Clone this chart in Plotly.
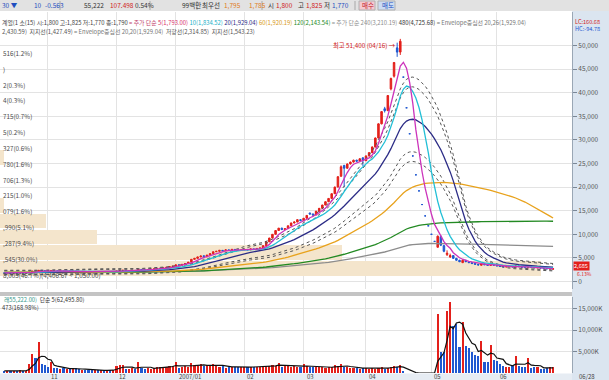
import plotly.graph_objects as go
import pandas as pd

W, H = 609, 380
PLOT_R = 572
FONT = "Noto Sans CJK KR"
RED = "#e3201b"
BLUE = "#1f58d0"
GRID = "#e3e3e3"


def fx(px):
    return px / W


def fy(py):
    return 1 - py / H


# ---------------- data ----------------
month_idx = [14, 36, 55, 77, 96, 116, 137, 158]
month_lbl = ["11", "12", "2007/01", "02", "03", "04", "05", "06"]
end_lbl = "06/28"
price_ticks = [0, 5000, 10000, 15000, 20000, 25000, 30000, 35000, 40000, 45000, 50000]
vol_ticks = [5000, 10000, 15000]
vol_tick_lbl = ["5,000K", "10,000K", "15,000K"]

prior_closes = [2050, 2020, 2000, 1980, 1990, 1960, 1940, 1950, 1930, 1900,
                1880, 1870, 1890, 1900, 1880, 1860, 1850, 1870, 1890, 1920,
                1950, 1980, 1960, 1940, 1910, 1900, 1880, 1870, 1860, 1880,
                1900, 1920, 1940, 1930, 1910, 1890, 1900, 1920, 1950, 1970,
                1990, 2010, 2000, 1980, 1960, 1950, 1970, 1990, 2000, 1980,
                1960, 1940, 1920, 1900, 1880, 1870, 1860, 1850, 1840, 1830,
                1820, 1810, 1800, 1795]

opens = [1800, 1790, 1805, 1780, 1810, 1795, 1830, 1815, 1860, 1980, 2180, 2080, 2380, 2280,
         2200, 2140, 2300, 2240, 2200, 2220, 2160, 2200, 2170, 2180, 2130, 2100, 2130, 2100, 2070, 2060, 2080, 2050, 2060, 2030, 2040, 2030,
         2060, 2180, 2280, 2380, 2300, 2330, 2360, 2320, 2560, 2500, 2470, 2530, 2600, 2660, 2700, 2800, 2850, 3000, 3150,
         3250, 3520, 3440, 3620, 3800, 4100, 4700, 4900, 5200, 5450, 5250, 5600, 5900, 6300, 6400, 6600, 6500, 6700, 6600, 6800, 6700, 6600,
         6700, 6800, 6700, 6900, 6800, 7000, 7100, 7600, 8400, 9200, 10000, 10800, 11300, 11000, 11200, 11800, 12400, 12600,
         13100, 12900, 13400, 14500, 14300, 14100, 14900, 15500, 16200, 16900, 17600, 18600, 20000, 22300, 24600, 24000, 24900, 25300, 25700, 25500, 26200,
         25600, 26600, 27300, 28500, 30400, 33400, 36600, 36200, 40800, 43500, 49500, 48600,
         43300, 36800, 31300, 26600, 22600, 19200, 16300, 13900, 11800,
         10000, 8500, 7250, 9500, 7600, 5700, 5200, 5500, 4900, 4500, 4000, 4500, 4200, 4000, 3800, 3650, 3450, 3750, 3550, 3400, 3650,
         3450, 3300, 3180, 3080, 3150, 3200, 3050, 3300, 3150, 3030, 2920, 3150, 3000, 2880, 2960, 2850, 2760, 2660, 2620]

highs = [1825, 1815, 1810, 1820, 1815, 1840, 1835, 1860, 1980, 2200, 2250, 2420, 2420, 2300,
         2230, 2330, 2320, 2260, 2240, 2230, 2220, 2210, 2200, 2190, 2150, 2150, 2140, 2110, 2090, 2090, 2090, 2070, 2070, 2050, 2060, 2070,
         2200, 2300, 2400, 2390, 2350, 2380, 2370, 2600, 2580, 2520, 2540, 2620, 2680, 2730, 2820, 2880, 3020, 3180, 3280,
         3560, 3540, 3650, 3820, 4150, 4750, 4950, 5250, 5450, 5500, 5650, 5950, 6350, 6450, 6650, 6650, 6750, 6720, 6850, 6820, 6720, 6750,
         6850, 6820, 6950, 6920, 7050, 7150, 7650, 8450, 9250, 10050, 10850, 11350, 11400, 11250, 11850, 12450, 12700, 13150,
         13200, 13450, 14050, 14600, 14400, 14950, 15550, 16250, 16950, 17650, 18650, 20100, 22300, 24600, 24700, 25000, 25400, 25800, 25800, 26100, 26300,
         26700, 27400, 28600, 30500, 33500, 36100, 37000, 39500, 43200, 46500, 50600, 51400,
         43300, 36800, 31300, 26600, 22600, 19200, 16300, 13900, 11800,
         10000, 8500, 9750, 9800, 7800, 6600, 5900, 5600, 5000, 4600, 4700, 4550, 4250, 4050, 3850, 3700, 3900, 3780, 3580, 3800, 3680,
         3480, 3320, 3200, 3200, 3250, 3220, 3400, 3320, 3170, 3050, 3250, 3170, 3020, 3000, 2980, 2870, 2780, 2740, 2720]

lows = [1770, 1780, 1770, 1775, 1785, 1790, 1805, 1810, 1850, 1960, 2020, 2060, 2250, 2170,
        2120, 2130, 2220, 2180, 2170, 2150, 2150, 2160, 2140, 2120, 2090, 2090, 2090, 2060, 2040, 2050, 2040, 2030, 2020, 2010, 2020, 2020,
        2050, 2160, 2260, 2280, 2270, 2300, 2300, 2310, 2480, 2450, 2460, 2520, 2580, 2640, 2690, 2780, 2840, 2980, 3120,
        3240, 3400, 3420, 3600, 3780, 4080, 4650, 4880, 5150, 4900, 5200, 5550, 5880, 6250, 6350, 6450, 6480, 6550, 6580, 6650, 6550, 6580,
        6680, 6650, 6680, 6750, 6780, 6950, 7080, 7580, 8350, 9150, 9950, 10700, 10900, 10900, 11150, 11750, 12300, 12550,
        12800, 12850, 13350, 14200, 13900, 14050, 14850, 15450, 16150, 16850, 17550, 18550, 19950, 22200, 20000, 23900, 24800, 25200, 25300, 25400, 24500,
        25500, 26500, 27200, 28400, 30300, 33300, 35800, 36100, 40500, 43200, 47600, 48000,
        43300, 36800, 31300, 26600, 22600, 19200, 16300, 13900, 11800,
        10000, 8500, 7250, 7500, 6200, 5400, 5000, 4800, 4400, 4100, 3900, 4100, 3900, 3750, 3600, 3450, 3400, 3500, 3380, 3380, 3400,
        3250, 3150, 3050, 3050, 3120, 3050, 3030, 3100, 3000, 2900, 2900, 2980, 2880, 2860, 2820, 2740, 2650, 2640, 2600]

closes = [1790, 1805, 1780, 1810, 1795, 1830, 1815, 1850, 1960, 2180, 2050, 2380, 2280, 2200,
          2140, 2300, 2240, 2200, 2220, 2160, 2200, 2170, 2180, 2130, 2100, 2130, 2100, 2070, 2060, 2080, 2050, 2060, 2030, 2040, 2030, 2060,
          2180, 2280, 2380, 2300, 2330, 2360, 2320, 2560, 2500, 2470, 2530, 2600, 2660, 2700, 2800, 2850, 3000, 3150, 3250,
          3520, 3440, 3620, 3800, 4100, 4700, 4900, 5200, 5400, 5250, 5600, 5900, 6300, 6400, 6600, 6500, 6700, 6600, 6800, 6700, 6600, 6700,
          6800, 6700, 6900, 6800, 7000, 7100, 7600, 8400, 9200, 10000, 10800, 11300, 11000, 11200, 11800, 12400, 12600, 13100,
          12900, 13400, 14000, 14300, 14100, 14900, 15500, 16200, 16900, 17600, 18600, 20000, 22200, 24300, 24000, 24900, 25300, 25700, 25500, 26000, 25600,
          26600, 27300, 28500, 30400, 33400, 36000, 36200, 39400, 43000, 46400, 48600, 50900,
          43300, 36800, 31300, 26600, 22600, 19200, 16300, 13900, 11800,
          10000, 8500, 9600, 7700, 6400, 6000, 5500, 4900, 4500, 4200, 4500, 4200, 4000, 3800, 3650, 3500, 3750, 3550, 3420, 3650, 3450,
          3300, 3180, 3080, 3150, 3200, 3080, 3300, 3150, 3030, 2940, 3150, 3000, 2900, 2960, 2850, 2760, 2680, 2710, 2685]

volumes_k = [500, 450, 400, 500, 450, 600, 500, 550, 2100, 4500, 3500, 7300, 2100, 1900,
             1300, 2600, 1200, 1100, 1000, 1100, 1000, 900, 1000, 1100, 900, 800, 700, 700, 600, 600, 650, 600, 700, 600, 650, 700,
             1700, 1900, 1800, 900, 1000, 1200, 900, 2500, 1100, 1000, 1100, 1000, 1200, 1300, 1400, 1500, 1400, 1600, 1700,
             2500, 1100, 1300, 1700, 1500, 2300, 1800, 1600, 2000, 1700, 1800, 1900, 2200, 1600, 1500, 1600, 1200, 1500, 1300, 1500, 1400, 1300,
             1500, 1400, 1300, 1500, 1400, 1500, 1600, 1700, 1600, 1800, 1700, 2400, 1500, 1600, 1700, 1500, 1700, 1400,
             1500, 2000, 1600, 1500, 1400, 1500, 1300, 1400, 1200, 1500, 1300, 1800, 1700, 2000, 1300, 1400, 1200, 1100, 1200, 1000, 1100,
             1200, 1000, 1100, 1000, 1200, 1300, 1000, 1100, 1500, 1700, 1400, 1800,
             500, 0, 0, 0, 0, 0, 0, 0, 0,
             0, 0, 13700, 4900, 5000, 14500, 16500, 11000, 11500, 6000, 12000, 6200, 5800, 4800, 4300, 4000, 7500, 2600, 2500, 6600, 3000,
             2800, 2000, 1600, 1500, 1500, 1700, 4000, 1600, 1500, 1400, 3500, 1200, 1300, 1500, 1000, 1000, 1200, 1400, 1500]

# price-by-volume profile (bottom bin first)
profile_low, profile_high = 1050.0, 51400.0
profile_pct = [46.7, 30.0, 9.4, 5.1, 1.6, 1.0, 1.3, 1.6, 0.6, 0.2, 0.7, 0.3, 0.3, 0.0, 1.2]
profile_lbl = ["8,005(46.7%)(4,406.67 ~ 1,050.00)", ",545(30.0%)", ",287(9.4%)", ",990(5.1%)",
               "079(1.6%)", "215(1.0%)", "706(1.3%)", "780(1.6%)", "327(0.6%)", "5(0.2%)",
               "715(0.7%)", "4(0.3%)", "2(0.3%)", ")", "516(1.2%)"]

ma_windows = [5, 10, 20, 60, 120, 240]
ma_colors = ["#cc33bb", "#22bfd6", "#2c2c86", "#e8a21c", "#238a23", "#8c8c8c"]
env_pcts = [0.20, 0.26]

n = len(closes)
assert len(opens) == n and len(highs) == n and len(lows) == n and len(volumes_k) == n
xi = list(range(n))

allc = pd.Series(prior_closes + closes, dtype=float)
n0 = len(prior_closes)


def ma(w):
    return allc.rolling(w, min_periods=1).mean().iloc[n0:].to_numpy()


vol_ma5 = pd.Series(volumes_k, dtype=float).rolling(5, min_periods=1).mean().to_numpy()
vol_colors = [RED if c > o else BLUE for o, c in zip(opens, closes)]

# ---------------- figure ----------------
fig = go.Figure()

bin_w = (profile_high - profile_low) / len(profile_pct)
bin_mid = [profile_low + bin_w * (i + 0.5) for i in range(len(profile_pct))]
fig.add_trace(go.Bar(x=profile_pct, y=bin_mid, orientation="h", width=bin_w * 0.92,
                     marker=dict(color="#f4e5cc", line=dict(width=0)),
                     xaxis="x", yaxis="y", hoverinfo="skip", showlegend=False))

ma20 = ma(20)
for p in env_pcts:
    for sgn in (1, -1):
        fig.add_trace(go.Scatter(x=xi, y=ma20 * (1 + sgn * p), mode="lines",
                                 line=dict(color="#555555", width=1, dash="dot"),
                                 xaxis="x3", yaxis="y", hoverinfo="skip", showlegend=False))

for w, col in reversed(list(zip(ma_windows, ma_colors))):
    fig.add_trace(go.Scatter(x=xi, y=ma(w), mode="lines", line=dict(color=col, width=1.3),
                             xaxis="x3", yaxis="y", hoverinfo="skip", showlegend=False))

fig.add_trace(go.Candlestick(x=xi, open=opens, high=highs, low=lows, close=closes,
                             xaxis="x3", yaxis="y", whiskerwidth=0,
                             increasing=dict(line=dict(color=RED, width=1), fillcolor=RED),
                             decreasing=dict(line=dict(color=BLUE, width=1), fillcolor=BLUE),
                             showlegend=False, hoverinfo="skip"))

fig.add_trace(go.Bar(x=xi, y=volumes_k, marker=dict(color=vol_colors, line=dict(width=0)),
                     width=0.68, xaxis="x2", yaxis="y2", hoverinfo="skip", showlegend=False))
fig.add_trace(go.Scatter(x=xi, y=vol_ma5, mode="lines", line=dict(color="#111111", width=1.2),
                         xaxis="x2", yaxis="y2", hoverinfo="skip", showlegend=False))

# axes geometry (pixel based)
px0, pxd = 4.3, 3.118          # pixel of index 0, pixels per day
xr = [(0 - px0) / pxd, (PLOT_R - px0) / pxd]
zero_py, px_per_k = 281.5, 4.72  # price panel: y pixel of 0, px per 1000
p_top, p_bot = 12, 289
yr = [(zero_py - p_bot) / px_per_k * 1000, (zero_py - p_top) / px_per_k * 1000]
v_top, v_bot = 297, 373
v_px_per_5000 = 21.4
vr = [0, (v_bot - v_top) / v_px_per_5000 * 5000]

tickfont = dict(family=FONT, size=6.5, color="#555555")
fig.update_layout(
    width=W, height=H, margin=dict(l=0, r=0, t=0, b=0),
    paper_bgcolor="white", plot_bgcolor="white", showlegend=False,
    font=dict(family=FONT, size=6.5, color="#333333"),
    xaxis=dict(domain=[0, fx(PLOT_R)], range=[1.26, 49.33], visible=False, anchor="y", fixedrange=True),
    xaxis3=dict(overlaying="x", anchor="y", range=xr, tickvals=month_idx, showticklabels=False,
                showgrid=True, gridcolor=GRID, gridwidth=1, zeroline=False, showline=False,
                rangeslider=dict(visible=False), ticks=""),
    yaxis=dict(domain=[fy(p_bot), fy(p_top)], range=yr, side="right", anchor="x",
               tickvals=price_ticks, tickformat=",", showgrid=True, gridcolor=GRID, zeroline=False,
               ticks="outside", ticklen=4, tickcolor="#7a8796", tickfont=tickfont,
               showline=True, linecolor="#9aa7b5", linewidth=1),
    xaxis2=dict(domain=[0, fx(PLOT_R)], anchor="y2", range=xr, tickvals=month_idx, showticklabels=False,
                showgrid=True, gridcolor=GRID, zeroline=False, showline=False, ticks=""),
    yaxis2=dict(domain=[fy(v_bot), fy(v_top)], anchor="x2", range=vr, side="right",
                tickvals=vol_ticks, ticktext=vol_tick_lbl,
                showgrid=True, gridcolor=GRID, zeroline=False, ticks="outside", ticklen=4,
                tickcolor="#7a8796", tickfont=tickfont, showline=True, linecolor="#9aa7b5", linewidth=1),
    bargap=0,
)

shapes = [
    dict(type="rect", xref="paper", yref="paper", x0=0, x1=1, y0=fy(11), y1=1,
         fillcolor="#e2e2e2", line=dict(width=0), layer="below"),
    dict(type="rect", xref="paper", yref="paper", x0=fx(PLOT_R), x1=1, y0=0, y1=fy(11),
         fillcolor="#dbe5f0", line=dict(width=0), layer="below"),
    dict(type="rect", xref="paper", yref="paper", x0=0, x1=fx(PLOT_R), y0=fy(296), y1=fy(292),
         fillcolor="#c4c4c4", line=dict(width=0), layer="below"),
    dict(type="rect", xref="paper", yref="paper", x0=0, x1=fx(PLOT_R), y0=0, y1=fy(373.5),
         fillcolor="#e6ecf3", line=dict(width=0), layer="below"),
    dict(type="rect", xref="paper", yref="paper", x0=fx(359), x1=fx(375), y0=fy(10), y1=fy(1),
         fillcolor="#f5c9cf", line=dict(color="#b0b0b0", width=1), layer="below"),
    dict(type="rect", xref="paper", yref="paper", x0=fx(378), x1=fx(395), y0=fy(10), y1=fy(1),
         fillcolor="#cddcf2", line=dict(color="#b0b0b0", width=1), layer="below"),
]
for sx in [60, 150, 197, 262, 355]:
    shapes.append(dict(type="line", xref="paper", yref="paper", x0=fx(sx), x1=fx(sx), y0=fy(10), y1=fy(1),
                       line=dict(color="#a8a8a8", width=1)))
fig.update_layout(shapes=shapes)

ann = []


def txt(x, y, s, color="#333333", size=6.5, xanchor="left", yanchor="middle", **kw):
    ann.append(dict(xref="paper", yref="paper", x=fx(x), y=fy(y), text=s, showarrow=False,
                    xanchor=xanchor, yanchor=yanchor,
                    font=dict(family=FONT, size=size, color=color), **kw))


# toolbar
for x, s, c in [(0, "30 ▼", "#1f4fbf"), (32, "10", "#1f4fbf"), (43, "-0.563", "#1f4fbf"),
                (82, "55,222", "#333333"), (108, "107.498", "#d02020"), (133, "0.54%", "#333333"),
                (180, "99백만", "#333333"), (200, "최우선", "#333333"), (222, "1,795", "#e07a20"),
                (247, "1,785", "#e07a20"), (266, "시", "#333333"), (274, "1,800", "#d02020"),
                (296, "고", "#333333"), (304, "1,825", "#d02020"), (322, "저", "#333333"),
                (330, "1,770", "#1f4fbf"), (360, "매수", "#c0202a"), (380, "매도", "#1f4fbf")]:
    txt(x, 5.5, s, c)

# indicator legend rows
row1 = ("<span style='color:#444'>계열(1 소(15) 시:1,800 고:1,825 저:1,770 종:1,790</span>"
        "<span style='color:#c0406a'> = 주가 단순 </span>"
        "<span style='color:#d8306a'>5(1,793.00)</span> "
        "<span style='color:#22b0c8'>10(1,834.52)</span> "
        "<span style='color:#2c2c86'>20(1,929.04)</span> "
        "<span style='color:#d89a18'>60(1,920.19)</span> "
        "<span style='color:#238a23'>120(2,143.54)</span>"
        "<span style='color:#8c8c8c'> = 주가 단순 240(3,210.19)</span> "
        "<span style='color:#333'>480(4,725.68)</span>"
        "<span style='color:#777'> = Envelope중심선 20,26(1,929.04)</span>")
row2 = ("<span style='color:#555'>2,430.59)  지지선(1,427.49)</span>"
        "<span style='color:#777'> = Envelope중심선 20,20(1,929.04)</span>"
        "<span style='color:#555'>  저항선(2,314.85)  지지선(1,543.23)</span>")
txt(0, 22.3, row1, size=5.9)
txt(0, 31.3, row2, size=5.9)
txt(573, 21.5, "LC:160.68", "#d02020", size=5.6)
txt(573, 29.5, "HC:-94.78", "#1f58d0", size=5.6)

# profile labels
for mid, s in zip(bin_mid, profile_lbl):
    ann.append(dict(xref="paper", yref="y", x=fx(1), y=mid, text=s, showarrow=False,
                    xanchor="left", yanchor="top", font=dict(family=FONT, size=6.3, color="#4a4a4a")))

# peak label
pk = max(range(n), key=lambda i: highs[i])
ann.append(dict(xref="x3", yref="y", x=pk - 0.7, y=highs[pk], text="최고 51,400 (04/16) →", showarrow=False,
                xanchor="right", yanchor="top", font=dict(family=FONT, size=6.3, color="#d02020")))

# last price tag
ann.append(dict(xref="paper", yref="y", x=fx(PLOT_R + 1), y=closes[-1], yshift=2.5, text="2,685 ", showarrow=False,
                xanchor="left", yanchor="middle", bgcolor="#e3201b", borderpad=0,
                font=dict(family=FONT, size=5.6, color="white")))
ann.append(dict(xref="paper", yref="y", x=fx(PLOT_R + 3), y=closes[-1], yshift=-4.3, text="6.13%", showarrow=False,
                xanchor="left", yanchor="middle", font=dict(family=FONT, size=5.0, color="#e3201b")))

# volume legend
txt(2, 299.5, "<span style='color:#3a9a8a'>래55,222.00)</span>  <span style='color:#333'>단순 5(62,495.80)</span>", size=5.8)
txt(0, 307.5, "473(168.98%)", "#333333", size=5.8)

# x labels
for mi, s in zip(month_idx, month_lbl):
    ann.append(dict(xref="x2", yref="paper", x=mi + 0.3, y=fy(376.3), text=s, showarrow=False,
                    xanchor="left", yanchor="middle", font=dict(family=FONT, size=6.0, color="#444444")))
txt(577, 376.3, end_lbl, "#444444", size=6.0)

fig.update_layout(annotations=ann)
fig.write_html("out.html")
